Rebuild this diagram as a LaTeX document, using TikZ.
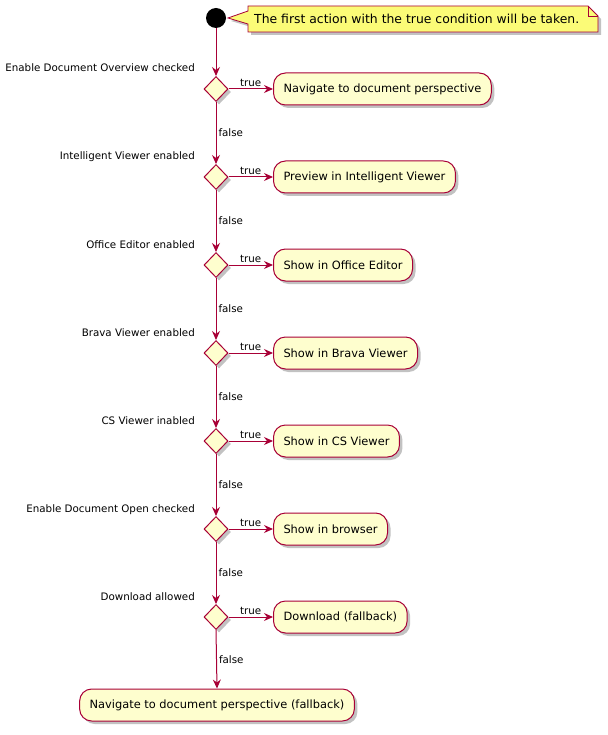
\documentclass[tikz,border=0pt]{standalone}
\usepackage{fontspec}
\setmainfont{DejaVu Sans}
\usetikzlibrary{arrows.meta,shapes.geometric,shadows}
\definecolor{umlred}{HTML}{A80036}
\definecolor{umlfill}{HTML}{FEFECE}
\definecolor{notefill}{HTML}{FBFB77}
\tikzset{>={Stealth[length=9pt,width=8pt,inset=3pt]}}
\tikzset{
  umlshadow/.style = {drop shadow={shadow xshift=3pt,shadow yshift=-3pt,fill=black!40,opacity=0.6}},
  flow/.style = {draw=umlred, line width=1pt, ->},
  act/.style = {draw=umlred, fill=umlfill, line width=1pt, rounded corners=12pt,
                minimum height=32pt, inner xsep=10pt, umlshadow,
                font=\fontsize{11.4}{13}\selectfont},
  cond/.style = {diamond, draw=umlred, fill=umlfill, line width=1pt,
                 minimum width=24pt, minimum height=25pt, inner sep=0pt, umlshadow},
  lbl/.style = {font=\fontsize{10.3}{12}\selectfont, inner sep=2pt}
}

\begin{document}
\begin{tikzpicture}[x=1pt,y=-1pt]
  \useasboundingbox (0,0) rectangle (607,735);
  % start
  \node[circle, fill=black, minimum size=20pt, inner sep=0pt] (start) at (216,18) {};
  % note
  \draw[umlred, fill=notefill, line width=0.8pt, umlshadow]
    (248,6) -- (588,6) -- (598,16) -- (598,32) -- (248,32) -- (248,24)
    -- (228,18) -- (248,11) -- cycle;
  \draw[umlred, line width=0.8pt] (588,6) -- (588,16) -- (598,16);
  \node[anchor=west, font=\fontsize{12.4}{14}\selectfont, inner sep=0pt] (note) at (254,19)
    {The first action with the true condition will be taken.};
  % conditions and actions
  \foreach \i/\c/\a in {
      1/{Enable Document Overview checked}/{Navigate to document perspective},
      2/{Intelligent Viewer enabled}/{Preview in Intelligent Viewer},
      3/{Office Editor enabled}/{Show in Office Editor},
      4/{Brava Viewer enabled}/{Show in Brava Viewer},
      5/{CS Viewer inabled}/{Show in CS Viewer},
      6/{Enable Document Open checked}/{Show in browser},
      7/{Download allowed}/{Download (fallback)}} {
    \pgfmathsetmacro{\y}{89+88*(\i-1)}
    \node[cond] (d\i) at (216,\y) {};
    \node[lbl, anchor=base east] (c\i) at (197,\y-17) {\c};
    \node[act, anchor=west] (a\i) at (273,\y) {\a};
    \draw[flow] (d\i.east) -- node[lbl, above] (t\i) {true} (a\i.west);
  }
  % fallback
  \node[act] (fin) at (217,705) {Navigate to document perspective (fallback)};
  % arrows
  \draw[flow] (start) -- (d1.north);
  \foreach \i/\j in {1/2,2/3,3/4,4/5,5/6,6/7}
    \draw[flow] (d\i.south) -- node[lbl, right] (f\i) {false} (d\j.north);
  \draw[flow] (d7.south) -- node[lbl, right] (f7) {false} (fin.north);
\end{tikzpicture}
\end{document}
